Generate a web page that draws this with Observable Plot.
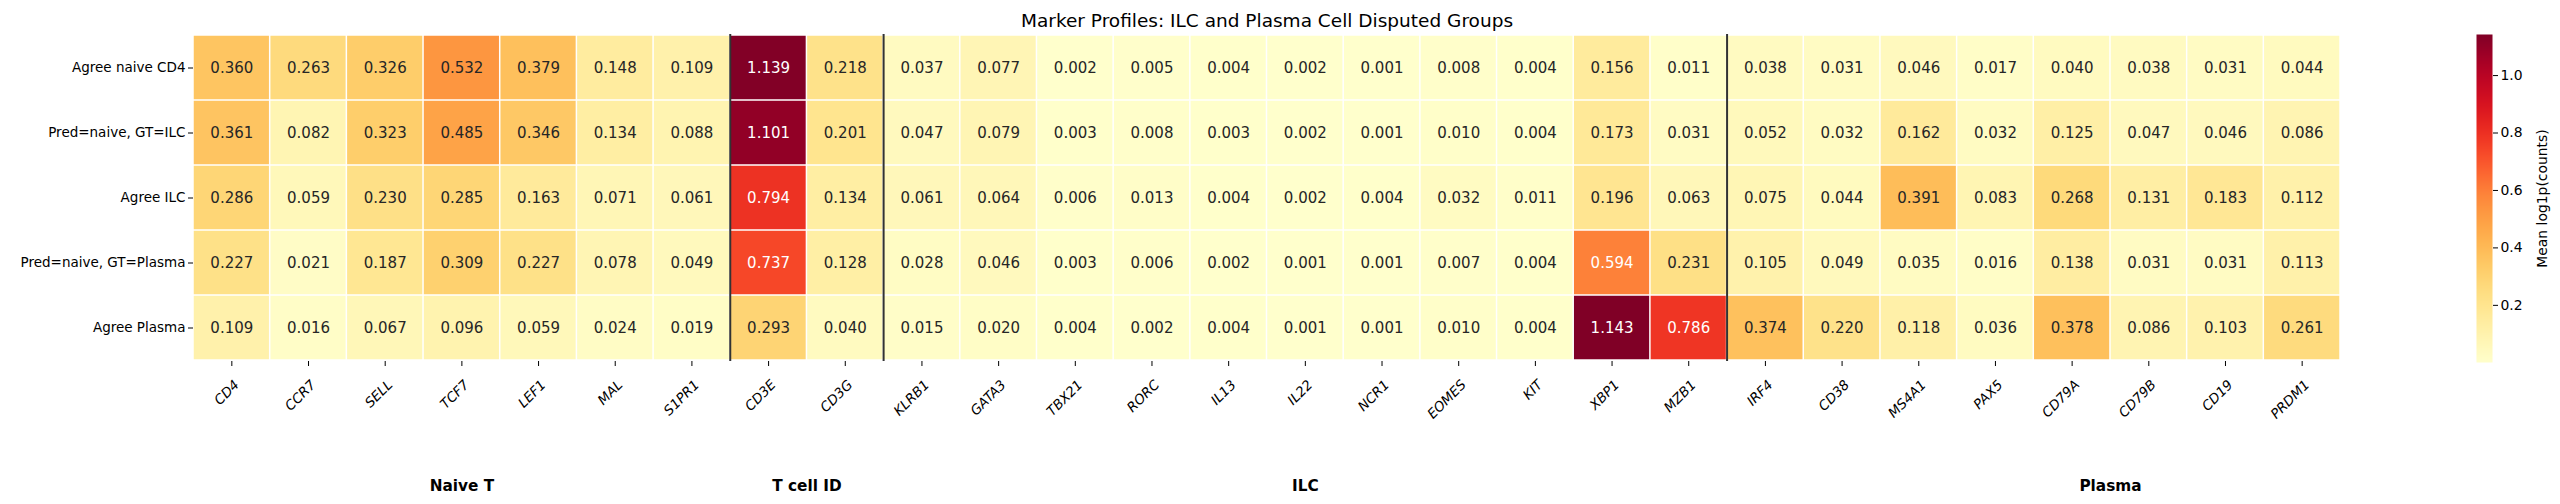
<!DOCTYPE html>
<html><head><meta charset="utf-8">
<script src="https://cdn.jsdelivr.net/npm/d3@7"></script>
<script src="https://cdn.jsdelivr.net/npm/@observablehq/plot@0.6"></script>
<style>
html,body{margin:0;padding:0;background:#fff;}
#wrap{position:relative;width:2560px;height:504px;font-family:"DejaVu Sans",sans-serif;background:#fff;}
#main{position:absolute;left:0;top:0;}
#cbar{position:absolute;left:2400px;top:0;}
#main g[aria-label="x-axis tick label"] text{font-style:italic;}
</style></head><body><div id="wrap"><div id="main"></div><div id="cbar"></div></div>
<script>
const title = "Marker Profiles: ILC and Plasma Cell Disputed Groups";
const genes = ["CD4","CCR7","SELL","TCF7","LEF1","MAL","S1PR1","CD3E","CD3G","KLRB1","GATA3","TBX21","RORC","IL13","IL22","NCR1","EOMES","KIT","XBP1","MZB1","IRF4","CD38","MS4A1","PAX5","CD79A","CD79B","CD19","PRDM1"];
const rows = ["Agree naive CD4","Pred=naive, GT=ILC","Agree ILC","Pred=naive, GT=Plasma","Agree Plasma"];
const agreeNaiveCD4 = [0.360,0.263,0.326,0.532,0.379,0.148,0.109,1.139,0.218,0.037,0.077,0.002,0.005,0.004,0.002,0.001,0.008,0.004,0.156,0.011,0.038,0.031,0.046,0.017,0.040,0.038,0.031,0.044];
const predNaiveGtIlc = [0.361,0.082,0.323,0.485,0.346,0.134,0.088,1.101,0.201,0.047,0.079,0.003,0.008,0.003,0.002,0.001,0.010,0.004,0.173,0.031,0.052,0.032,0.162,0.032,0.125,0.047,0.046,0.086];
const agreeIlc = [0.286,0.059,0.230,0.285,0.163,0.071,0.061,0.794,0.134,0.061,0.064,0.006,0.013,0.004,0.002,0.004,0.032,0.011,0.196,0.063,0.075,0.044,0.391,0.083,0.268,0.131,0.183,0.112];
const predNaiveGtPlasma = [0.227,0.021,0.187,0.309,0.227,0.078,0.049,0.737,0.128,0.028,0.046,0.003,0.006,0.002,0.001,0.001,0.007,0.004,0.594,0.231,0.105,0.049,0.035,0.016,0.138,0.031,0.031,0.113];
const agreePlasma = [0.109,0.016,0.067,0.096,0.059,0.024,0.019,0.293,0.040,0.015,0.020,0.004,0.002,0.004,0.001,0.001,0.010,0.004,1.143,0.786,0.374,0.220,0.118,0.036,0.378,0.086,0.103,0.261];
const groupNames = ["Naive T","T cell ID","ILC","Plasma"];
const groupSizes = [7,2,11,8];
const groupLabelX = [3.5,8,14.5,25];
const cbarTicks = [0.2,0.4,0.6,0.8,1.0];
const cbarLabel = "Mean log1p(counts)";

const rowValues = [agreeNaiveCD4,predNaiveGtIlc,agreeIlc,predNaiveGtPlasma,agreePlasma];
const cells = [];
rows.forEach((r,ri)=>genes.forEach((g,i)=>cells.push({row:r,gene:g,i,v:rowValues[ri][i]})));
const [vmin,vmax] = d3.extent(cells,d=>d.v);
const separators = d3.cumsum(groupSizes).slice(0,-1);
const tickPos = genes.map((g,i)=>i+0.5);
function lum(c){const r=d3.rgb(c);const f=v=>{v/=255;return v<=0.03928?v/12.92:Math.pow((v+0.055)/1.055,2.4);};return 0.2126*f(r.r)+0.7152*f(r.g)+0.0722*f(r.b);}
function textColor(v){const c=d3.interpolateYlOrRd((v-vmin)/(vmax-vmin));return lum(c)>0.408?"#262626":"white";}
const colorSpec = {type:"linear",scheme:"YlOrRd",domain:[vmin,vmax]};

const main = Plot.plot({
  width:2400,height:504,marginLeft:193,marginRight:60,marginTop:34,marginBottom:143,
  style:{fontFamily:'"DejaVu Sans", sans-serif',fontSize:"13.5px",background:"white",color:"black"},
  x:{domain:[0,genes.length],axis:null,label:null},
  y:{domain:rows,padding:0,axis:null,label:null},
  color:colorSpec,
  marks:[
    Plot.rect(cells,{x1:"i",x2:d=>d.i+1,y:"row",fill:"v",inset:0.75}),
    Plot.text(cells,{x:d=>d.i+0.5,y:"row",text:d=>d.v.toFixed(3),fill:d=>textColor(d.v),fontSize:15}),
    Plot.ruleX(separators,{stroke:"#333",strokeWidth:2}),
    Plot.axisY({tickSize:5,tickPadding:3,fontSize:13.5,label:null}),
    Plot.axisX(tickPos,{tickSize:5,tickFormat:()=>"",label:null}),
    Plot.axisX(tickPos,{tickFormat:d=>genes[Math.floor(d)],tickRotate:-45,tickSize:0,tickPadding:9,dx:5,dy:12,fontSize:13.5,label:null}),
    Plot.text(groupNames,{x:(d,i)=>groupLabelX[i],frameAnchor:"bottom",dy:129,fontWeight:"bold",fontSize:15.3}),
    Plot.text([title],{frameAnchor:"top",lineAnchor:"bottom",dy:-8,fontSize:18.5})
  ]
});
document.getElementById("main").appendChild(main);

const cbar = Plot.plot({
  width:160,height:504,marginLeft:76,marginRight:68,marginTop:34,marginBottom:142,
  style:{fontFamily:'"DejaVu Sans", sans-serif',fontSize:"13.9px",background:"white",color:"black"},
  x:{domain:[0,1],axis:null},
  y:{domain:[vmin,vmax],axis:null},
  color:colorSpec,
  marks:[
    Plot.raster({x1:0,x2:1,y1:vmin,y2:vmax,fill:(x,y)=>y}),
    Plot.axisY(cbarTicks,{anchor:"right",tickFormat:d=>d.toFixed(1),tickSize:5,tickPadding:3,fontSize:13.9,label:cbarLabel,labelAnchor:"center",labelOffset:54,labelArrow:"none"})
  ]
});
document.getElementById("cbar").appendChild(cbar);
</script></body></html>
